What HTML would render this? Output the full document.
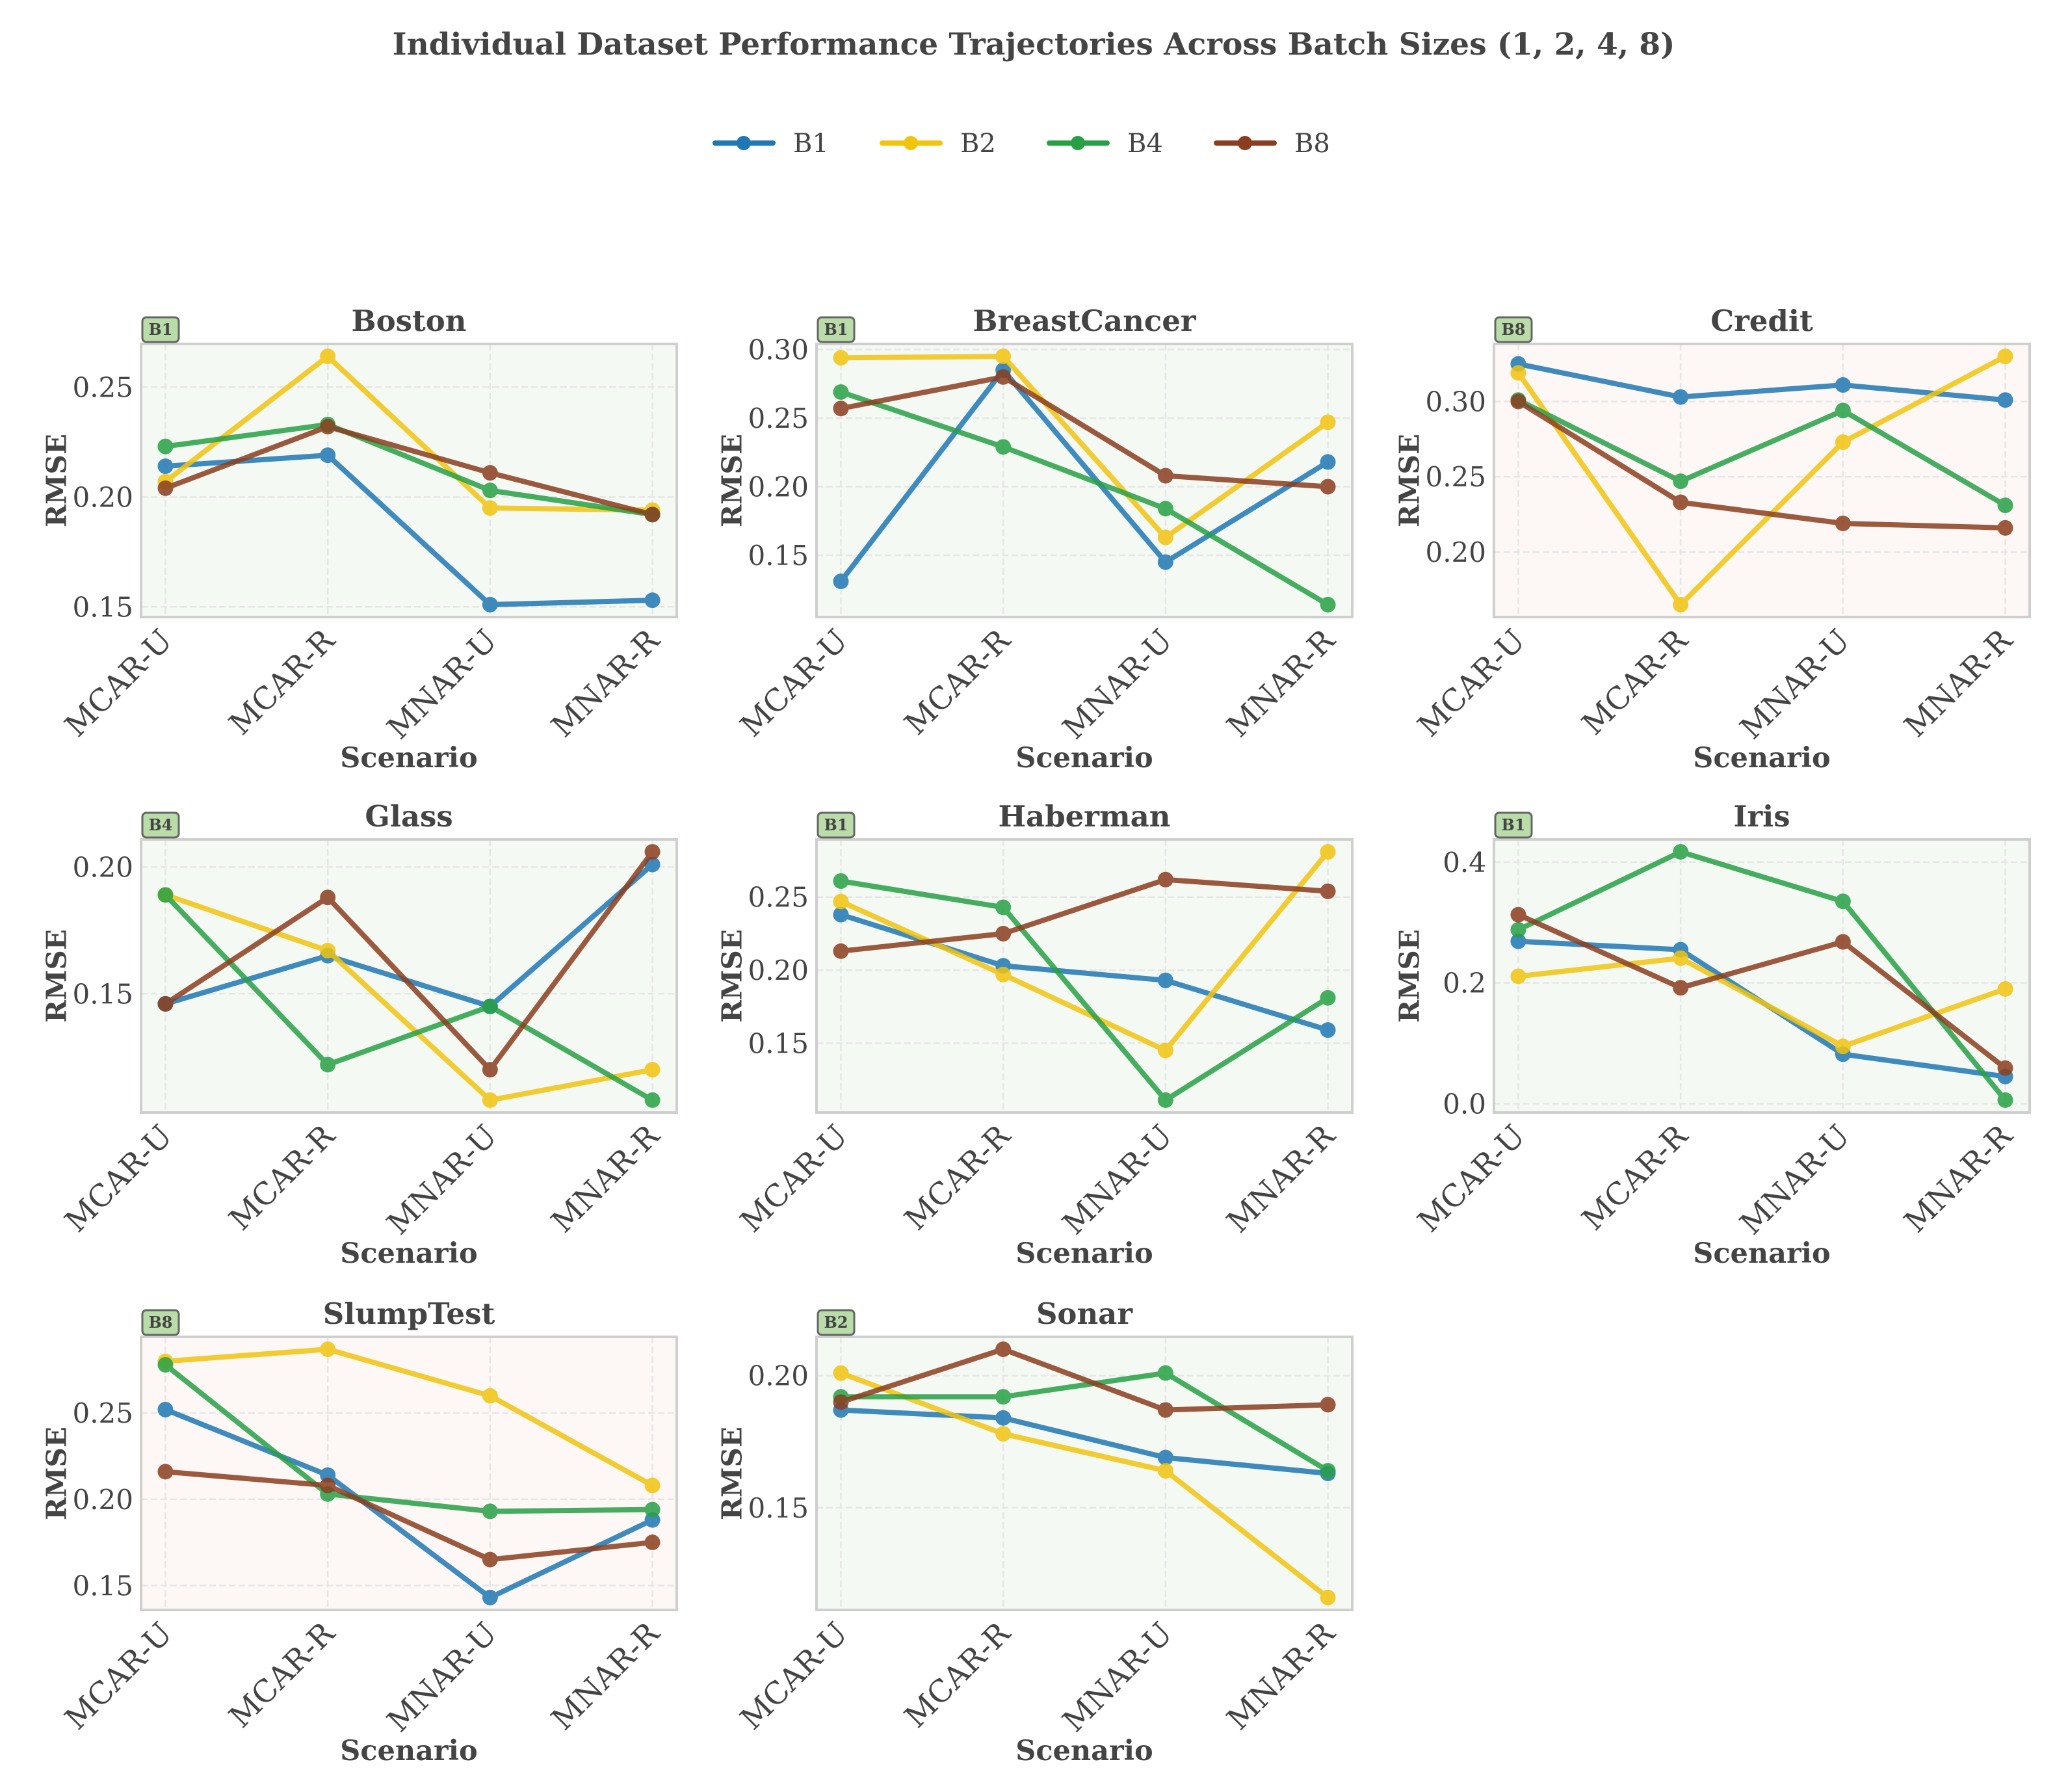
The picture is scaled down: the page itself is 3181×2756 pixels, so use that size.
<!DOCTYPE html>
<html><head><meta charset="utf-8">
<style>
html,body{margin:0;padding:0;background:#fff;}
svg{display:block;font-family:"DejaVu Serif","Liberation Serif",serif;}
</style></head>
<body>
<svg id="fig" width="3181" height="2756" viewBox="0 0 3181 2756" xmlns="http://www.w3.org/2000/svg">
<rect width="3181" height="2756" fill="#ffffff"/>
<text x="1590" y="84" text-anchor="middle" font-size="47" font-weight="bold" fill="#444">Individual Dataset Performance Trajectories Across Batch Sizes (1, 2, 4, 8)</text>
<g id="legend"></g>
<g id="panels"></g>
</svg>
<script>
const categories = ["MCAR-U","MCAR-R","MNAR-U","MNAR-R"];
const seriesNames = ["B1","B2","B4","B8"];
const seriesColors = ["#1f77b4","#f1c40f","#27a045","#8b3e1f"];
const datasets = ["Boston","BreastCancer","Credit","Glass","Haberman","Iris","SlumpTest","Sonar"];
const winners = ["B1","B1","B8","B4","B1","B1","B8","B2"];
const bostonB1 = [0.214,0.219,0.151,0.153];
const bostonB2 = [0.207,0.264,0.195,0.194];
const bostonB4 = [0.223,0.233,0.203,0.192];
const bostonB8 = [0.204,0.232,0.211,0.192];
const breastB1 = [0.131,0.285,0.145,0.218];
const breastB2 = [0.294,0.295,0.163,0.247];
const breastB4 = [0.269,0.229,0.184,0.114];
const breastB8 = [0.257,0.280,0.208,0.200];
const creditB1 = [0.325,0.303,0.311,0.301];
const creditB2 = [0.319,0.165,0.273,0.330];
const creditB4 = [0.301,0.247,0.294,0.231];
const creditB8 = [0.300,0.233,0.219,0.216];
const glassB1 = [0.146,0.165,0.145,0.201];
const glassB2 = [0.189,0.167,0.108,0.120];
const glassB4 = [0.189,0.122,0.145,0.108];
const glassB8 = [0.146,0.188,0.120,0.206];
const habermanB1 = [0.238,0.203,0.193,0.159];
const habermanB2 = [0.247,0.197,0.145,0.281];
const habermanB4 = [0.261,0.243,0.111,0.181];
const habermanB8 = [0.213,0.225,0.262,0.254];
const irisB1 = [0.269,0.255,0.082,0.045];
const irisB2 = [0.211,0.241,0.095,0.190];
const irisB4 = [0.288,0.417,0.335,0.006];
const irisB8 = [0.313,0.192,0.268,0.059];
const slumpB1 = [0.252,0.214,0.143,0.188];
const slumpB2 = [0.280,0.287,0.260,0.208];
const slumpB4 = [0.278,0.203,0.193,0.194];
const slumpB8 = [0.216,0.208,0.165,0.175];
const sonarB1 = [0.187,0.184,0.169,0.163];
const sonarB2 = [0.201,0.178,0.164,0.116];
const sonarB4 = [0.192,0.192,0.201,0.164];
const sonarB8 = [0.190,0.210,0.187,0.189];
const panelSeries = [
  [bostonB1,bostonB2,bostonB4,bostonB8],
  [breastB1,breastB2,breastB4,breastB8],
  [creditB1,creditB2,creditB4,creditB8],
  [glassB1,glassB2,glassB4,glassB8],
  [habermanB1,habermanB2,habermanB4,habermanB8],
  [irisB1,irisB2,irisB4,irisB8],
  [slumpB1,slumpB2,slumpB4,slumpB8],
  [sonarB1,sonarB2,sonarB4,sonarB8]
];
const tickLabels = [
  ["0.15","0.20","0.25"],
  ["0.15","0.20","0.25","0.30"],
  ["0.20","0.25","0.30"],
  ["0.15","0.20"],
  ["0.15","0.20","0.25"],
  ["0.0","0.2","0.4"],
  ["0.15","0.20","0.25"],
  ["0.15","0.20"]
];

const NS = "http://www.w3.org/2000/svg";
function mk(tag, attrs, parent){
  const e = document.createElementNS(NS, tag);
  for (const k in attrs) e.setAttribute(k, attrs[k]);
  if (parent) parent.appendChild(e);
  return e;
}
const panelsG = document.getElementById("panels");
const legendG = document.getElementById("legend");

const legX = [1100,1357,1614,1871];
seriesNames.forEach((n,i)=>{
  const g = mk("g",{},legendG);
  
  
  mk("line",{x1:legX[i],y1:220,x2:legX[i]+89,y2:220,stroke:seriesColors[i],"stroke-width":8,"stroke-linecap":"round"},g);
  mk("circle",{cx:legX[i]+44,cy:220,r:11,fill:seriesColors[i]},g);
  const t = mk("text",{x:legX[i]+120,y:234,"font-size":40,fill:"#444"},g);
  t.textContent = n;
});

const colL = [217,1256,2298], W = 824;
const rowT = [529,1291,2056], H = 420;

datasets.forEach((name,p)=>{
  const L = colL[p%3], T = rowT[Math.floor(p/3)];
  const g = mk("g",{},panelsG);
  
  
  const series = panelSeries[p];
  let mn = Infinity, mx = -Infinity;
  series.forEach(s=>s.forEach(v=>{mn=Math.min(mn,v);mx=Math.max(mx,v);}));
  const pad = (mx-mn)*0.05, y0 = mn-pad, y1 = mx+pad;
  const ys = v => T + H - (v-y0)/(y1-y0)*H;
  const xs = i => L + W*((i+0.15)/3.3);
  const bg = winners[p]==="B8" ? "#fdf7f5" : "#f4f9f3";
  const bgr = mk("rect",{x:L,y:T,width:W,height:H,fill:bg},g);
  
  
  tickLabels[p].forEach(tl=>{
    const y = ys(parseFloat(tl));
    mk("line",{x1:L,x2:L+W,y1:y,y2:y,stroke:"#e6e6e6","stroke-width":2.5,"stroke-dasharray":"10,5"},g);
    const t = mk("text",{x:L-12,y:y+15,"text-anchor":"end","font-size":42,fill:"#444"},g);
    
    
    t.textContent = tl;
  });
  categories.forEach((c,i)=>{
    const x = xs(i);
    mk("line",{x1:x,x2:x,y1:T,y2:T+H,stroke:"#e6e6e6","stroke-width":2.5,"stroke-dasharray":"10,5"},g);
    const ax = x+13, ay = T+H+39;
    const t = mk("text",{x:ax,y:ay,"text-anchor":"end","font-size":47,fill:"#444",transform:`rotate(-45 ${ax} ${ay})`},g);
    
    
    t.textContent = c;
  });
  series.forEach((vals,si)=>{
    const sg = mk("g",{opacity:0.85},g);
    
    
    const pts = vals.map((v,i)=>xs(i)+","+ys(v)).join(" ");
    mk("polyline",{points:pts,fill:"none",stroke:seriesColors[si],"stroke-width":8,"stroke-linejoin":"round"},sg);
    vals.forEach((v,i)=>{
      const c = mk("circle",{cx:xs(i),cy:ys(v),r:12,fill:seriesColors[si]},sg);
      
      
    });
  });
  const fr = mk("rect",{x:L,y:T,width:W,height:H,fill:"none",stroke:"#cfcfcf","stroke-width":4},g);
  
  
  const tt = mk("text",{x:L+W/2,y:T-20,"text-anchor":"middle","font-size":45,"font-weight":"bold",fill:"#444"},g);
  
  
  tt.textContent = name;
  const bg2 = mk("g",{},g);
  
  
  mk("rect",{x:L+2,y:T-41,width:56,height:38,rx:6,fill:"#b9dca9",stroke:"#666","stroke-width":3},bg2);
  const bt = mk("text",{x:L+30,y:T-14,"text-anchor":"middle","font-size":24,"font-weight":"bold",fill:"#444"},bg2);
  bt.textContent = winners[p];
  const yl = mk("text",{x:L-130,y:T+H/2,"text-anchor":"middle","font-size":42,"font-weight":"bold",fill:"#444",transform:`rotate(-90 ${L-130} ${T+H/2})`,"dominant-baseline":"central"},g);
  
  
  yl.textContent = "RMSE";
  const xl = mk("text",{x:L+W/2,y:T+H+231,"text-anchor":"middle","font-size":43,"font-weight":"bold",fill:"#444"},g);
  
  
  xl.textContent = "Scenario";
});
</script>
</body></html>
